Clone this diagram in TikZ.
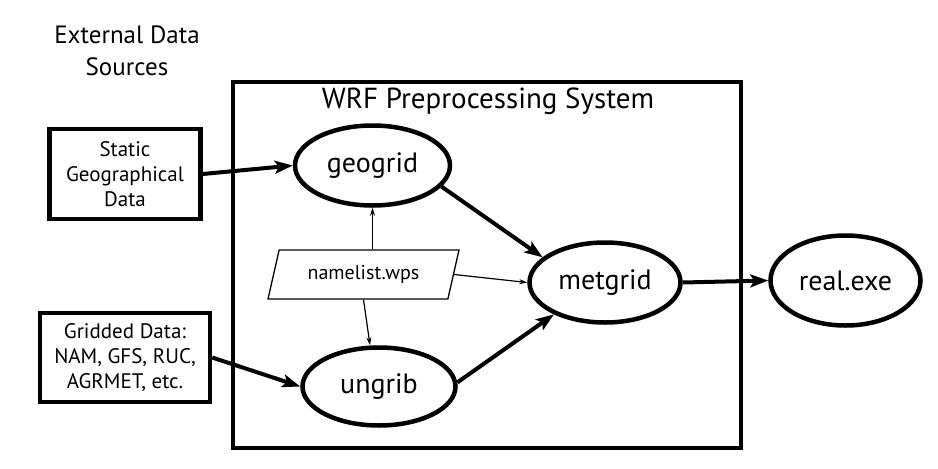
\documentclass[tikz,border=0pt]{standalone}
\usepackage{fontspec}
\setmainfont{PT Sans}
\usetikzlibrary{shapes.geometric,arrows.meta}
\begin{document}
\begin{tikzpicture}[x=1pt,y=-1pt,
  proc/.style={ellipse,draw,line width=4.5pt,inner sep=0pt,font=\fontsize{28}{32}\selectfont},
  src/.style={rectangle,draw,line width=4.5pt,inner sep=0pt,align=center,font=\fontsize{21}{25}\selectfont},
  bigarrow/.style={line width=4pt,-{Stealth[length=18pt,width=13pt,inset=4pt]}},
  smallarrow/.style={line width=1.2pt,-{Stealth[length=8pt,width=5pt]}},
]
\useasboundingbox (0,0) rectangle (938,469);
% container
\draw[line width=4.5pt] (233,82) rectangle (741,448);
\node[anchor=base,font=\fontsize{29}{32}\selectfont] (title) at (488,108) {WRF Preprocessing System};
\node[align=center,font=\fontsize{25}{32}\selectfont] (ext) at (127,51) {External Data\\Sources};
% sources
\node[src,minimum width=151pt,minimum height=90pt] (st) at (125,174) {Static\\Geographical\\Data};
\node[src,minimum width=170pt,minimum height=89pt] (gr) at (125,357.5) {Gridded Data:\\NAM, GFS, RUC,\\AGRMET, etc.};
% programs
\node[proc,minimum width=155pt,minimum height=80pt] (geo) at (372.5,165.5) {geogrid};
\node[proc,minimum width=153pt,minimum height=78pt] (ung) at (379,386.5) {ungrib};
\node[proc,minimum width=151pt,minimum height=80pt] (met) at (605,282.5) {metgrid};
\node[proc,minimum width=150pt,minimum height=90pt] (real) at (845.5,280.5) {real.exe};
% namelist
\node[trapezium,trapezium left angle=58.5,trapezium right angle=121.5,trapezium stretches body,
  draw,line width=1.3pt,minimum width=191pt,minimum height=49pt,inner sep=0pt,
  font=\fontsize{20}{23}\selectfont] (nl) at (363.5,274.5) {namelist.wps};
% connectors
\draw[bigarrow] (st.east) -- (geo.west);
\draw[bigarrow] (gr.east) -- (ung.west);
\draw[bigarrow] (geo.-17) -- (met.158);
\draw[bigarrow] (ung.3) -- (met.212);
\draw[bigarrow] (met.east) -- (real.west);
\draw[smallarrow] (geo.south |- nl.north) -- (geo.south);
\draw[smallarrow] (nl.south) -- ([xshift=-9pt]ung.north);
\draw[smallarrow] (nl.east) -- (met.west);
\end{tikzpicture}
\end{document}
